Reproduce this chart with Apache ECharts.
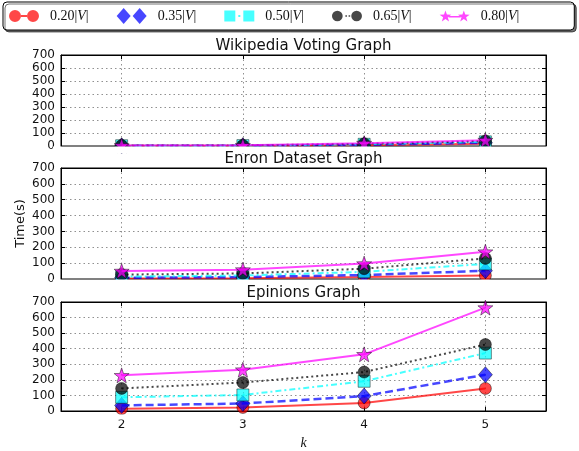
<!DOCTYPE html>
<html>
<head>
<meta charset="utf-8">
<script src="https://cdn.jsdelivr.net/npm/echarts@6/dist/echarts.min.js"></script>
<style>
  html, body { margin: 0; padding: 0; background: #fff; }
  #chart { width: 579px; height: 451px; }
</style>
</head>
<body>
<div id="chart"></div>
<script>
// k values on the shared x axis
const K_VALUES = [2, 3, 4, 5];
// fraction of |V| for each run
const LEVELS = ['0.20', '0.35', '0.50', '0.65', '0.80'];
const Y_TICKS = [0, 100, 200, 300, 400, 500, 600, 700];
const PANEL_TITLES = ['Wikipedia Voting Graph', 'Enron Dataset Graph', 'Epinions Graph'];

// running time (s) — Wikipedia Voting Graph
const wiki20 = [1, 1.5, 6, 18];
const wiki35 = [1.5, 2, 9, 25];
const wiki50 = [2, 3, 13, 32];
const wiki65 = [3, 4, 17, 38];
const wiki80 = [4, 5, 22, 45];

// running time (s) — Enron Dataset Graph
const enron20 = [3, 5, 12, 22];
const enron35 = [8, 12, 25, 52];
const enron50 = [15, 22, 45, 95];
const enron65 = [28, 35, 65, 130];
const enron80 = [50, 59, 97, 172];

// running time (s) — Epinions Graph
const epin20 = [15, 23, 52, 145];
const epin35 = [36, 48, 96, 233];
const epin50 = [88, 103, 191, 372];
const epin65 = [145, 183, 250, 427];
const epin80 = [229, 265, 364, 664];

const PANELS = [
  [wiki20, wiki35, wiki50, wiki65, wiki80],
  [enron20, enron35, enron50, enron65, enron80],
  [epin20, epin35, epin50, epin65, epin80]
];

const STAR = 'path://M0,-10L2.35,-3.24L9.51,-3.09L3.8,1.24L5.88,8.09L0,4L-5.88,8.09L-3.8,1.24L-9.51,-3.09L-2.35,-3.24Z';

const STYLES = [
  { color: 'rgba(255,0,0,0.72)', symbol: 'circle', size: 12, dash: 'solid', width: 2,
    icon: 'path://M0,6A6,6,0,1,1,12,6A6,6,0,1,1,0,6Z M12,5H18V7H12Z M18,6A6,6,0,1,1,30,6A6,6,0,1,1,18,6Z' },
  { color: 'rgba(0,0,255,0.72)', symbol: 'diamond', size: [14, 16], dash: [8, 4], width: 2.5,
    icon: 'path://M7,0L14,8L7,16L0,8Z M23,0L30,8L23,16L16,8Z' },
  { color: 'rgba(0,255,255,0.72)', symbol: 'rect', size: 12, dash: [6, 3, 2, 3], width: 2,
    icon: 'path://M0,0.5H11V11.5H0Z M14,5H16V7H14Z M19,0.5H30V11.5H19Z' },
  { color: 'rgba(0,0,0,0.72)', symbol: 'circle', size: 12, dash: [2, 3], width: 2,
    icon: 'path://M0,5A5,5,0,1,1,10,5A5,5,0,1,1,0,5Z M12.5,4.2H14V5.8H12.5Z M15.5,4.2H17V5.8H15.5Z M18,5A5,5,0,1,1,28,5A5,5,0,1,1,18,5Z' },
  { color: 'rgba(255,0,255,0.72)', symbol: STAR, size: 15, dash: 'solid', width: 2,
    icon: 'path://M6,0L7.41,4.06L11.71,4.15L8.28,6.74L9.53,10.85L6,8.4L2.47,10.85L3.72,6.74L0.29,4.15L4.59,4.06Z M9,5.4H21V6.8H9Z M24,0L25.41,4.06L29.71,4.15L26.28,6.74L27.53,10.85L24,8.4L20.47,10.85L21.72,6.74L18.29,4.15L22.59,4.06Z' }
];

const GRIDS = [
  { left: 61, top: 55, width: 485, height: 91 },
  { left: 61, top: 168, width: 485, height: 111 },
  { left: 61, top: 302, width: 485, height: 112 }
];

const gridLine = { show: true, lineStyle: { color: 'rgba(0,0,0,0.55)', width: 0.8, type: [1.5, 3] } };
const innerTick = { show: true, inside: true, length: 4, lineStyle: { color: '#000' } };

// bottom x axes (with grid lines) and plain top x axes carrying the inner ticks
const xAxes = GRIDS.map((g, i) => ({
  type: 'value',
  gridIndex: i,
  position: 'bottom',
  min: 1.5,
  max: 5.5,
  axisLine: { show: true, onZero: false, lineStyle: { color: '#000', width: 1 } },
  axisTick: { ...innerTick, customValues: K_VALUES },
  axisLabel: { show: i === 2, customValues: K_VALUES, color: '#111', fontFamily: 'DejaVu Sans', fontSize: 12, margin: 8 },
  splitLine: gridLine,
  name: i === 2 ? 'k' : '',
  nameLocation: 'middle',
  nameGap: 25,
  nameTextStyle: { fontFamily: 'Liberation Serif', fontStyle: 'italic', fontSize: 14, color: '#111' }
})).concat(GRIDS.map((g, i) => ({
  type: 'value',
  gridIndex: i,
  position: 'top',
  min: 1.5,
  max: 5.5,
  axisLine: { show: true, onZero: false, lineStyle: { color: '#000', width: 1 } },
  axisTick: { ...innerTick, customValues: K_VALUES },
  axisLabel: { show: false },
  splitLine: { show: false }
})));

const yAxes = GRIDS.map((g, i) => ({
  type: 'value',
  gridIndex: i,
  position: 'left',
  min: Y_TICKS[0],
  max: Y_TICKS[Y_TICKS.length - 1],
  interval: 100,
  axisLine: { show: true, onZero: false, lineStyle: { color: '#000', width: 1 } },
  axisTick: innerTick,
  axisLabel: { color: '#111', fontFamily: 'DejaVu Sans', fontSize: 12, margin: 6 },
  splitLine: gridLine,
  name: i === 1 ? 'Time(s)' : '',
  nameLocation: 'middle',
  nameGap: 34,
  nameMoveOverlap: false,
  nameTextStyle: { fontFamily: 'DejaVu Sans', fontSize: 13, color: '#111' }
})).concat(GRIDS.map((g, i) => ({
  type: 'value',
  gridIndex: i,
  position: 'right',
  min: Y_TICKS[0],
  max: Y_TICKS[Y_TICKS.length - 1],
  interval: 100,
  axisLine: { show: true, onZero: false, lineStyle: { color: '#000', width: 1 } },
  axisTick: innerTick,
  axisLabel: { show: false },
  splitLine: { show: false }
})));

const series = [];
PANELS.forEach((panel, gi) => {
  panel.forEach((vals, li) => {
    const s = STYLES[li];
    series.push({
      type: 'line',
      name: LEVELS[li],
      xAxisIndex: gi,
      yAxisIndex: gi,
      data: K_VALUES.map((k, j) => [k, vals[j]]),
      symbol: s.symbol,
      symbolSize: s.size,
      showAllSymbol: true,
      itemStyle: { color: s.color, borderColor: 'rgba(0,0,0,0.75)', borderWidth: 0.6 },
      lineStyle: { color: s.color, width: s.width, type: s.dash },
      emphasis: { disabled: true },
      z: 2 + li
    });
  });
});

// markers are cut off at the lower frame of each panel
const markerMasks = GRIDS.map((g, i) => ({
  type: 'rect',
  silent: true,
  z: 50,
  shape: { x: g.left - 8, y: g.top + g.height + 0.6, width: g.width + 16, height: i === 2 ? 5 : 7 },
  style: { fill: '#fff' }
}));

const chart = echarts.init(document.getElementById('chart'), null, { renderer: 'canvas' });
chart.setOption({
  animation: false,
  backgroundColor: '#fff',
  title: PANEL_TITLES.map((t, i) => ({
    text: t,
    z: 60,
    left: GRIDS[i].left + GRIDS[i].width / 2,
    top: GRIDS[i].top - 16,
    textAlign: 'center',
    padding: 0,
    textStyle: { fontFamily: 'DejaVu Sans', fontSize: 15, fontWeight: 'normal', color: '#111' }
  })),
  legend: {
    left: 3,
    top: 2,
    width: 560,
    orient: 'horizontal',
    itemWidth: 30,
    itemHeight: 16,
    itemGap: 28,
    padding: [6, 55, 6, 6],
    backgroundColor: '#fff',
    borderColor: '#000',
    borderWidth: 1,
    borderRadius: 4,
    shadowColor: 'rgba(0,0,0,0.55)',
    shadowOffsetX: 2,
    shadowOffsetY: 2,
    shadowBlur: 0,
    selectedMode: false,
    itemStyle: { borderWidth: 0 },
    data: LEVELS.map((n, i) => ({ name: n, icon: STYLES[i].icon })),
    formatter: n => n + '|{v|V}|',
    textStyle: {
      fontFamily: 'Liberation Serif',
      fontSize: 14,
      color: '#111',
      padding: [0, 0, 0, 6],
      rich: { v: { fontFamily: 'Liberation Serif', fontStyle: 'italic', fontSize: 14, color: '#111' } }
    }
  },
  graphic: markerMasks,
  grid: GRIDS.map(g => ({ ...g, show: true, borderColor: '#000', borderWidth: 1, backgroundColor: 'transparent' })),
  xAxis: xAxes,
  yAxis: yAxes,
  series: series
});
</script>
</body>
</html>
